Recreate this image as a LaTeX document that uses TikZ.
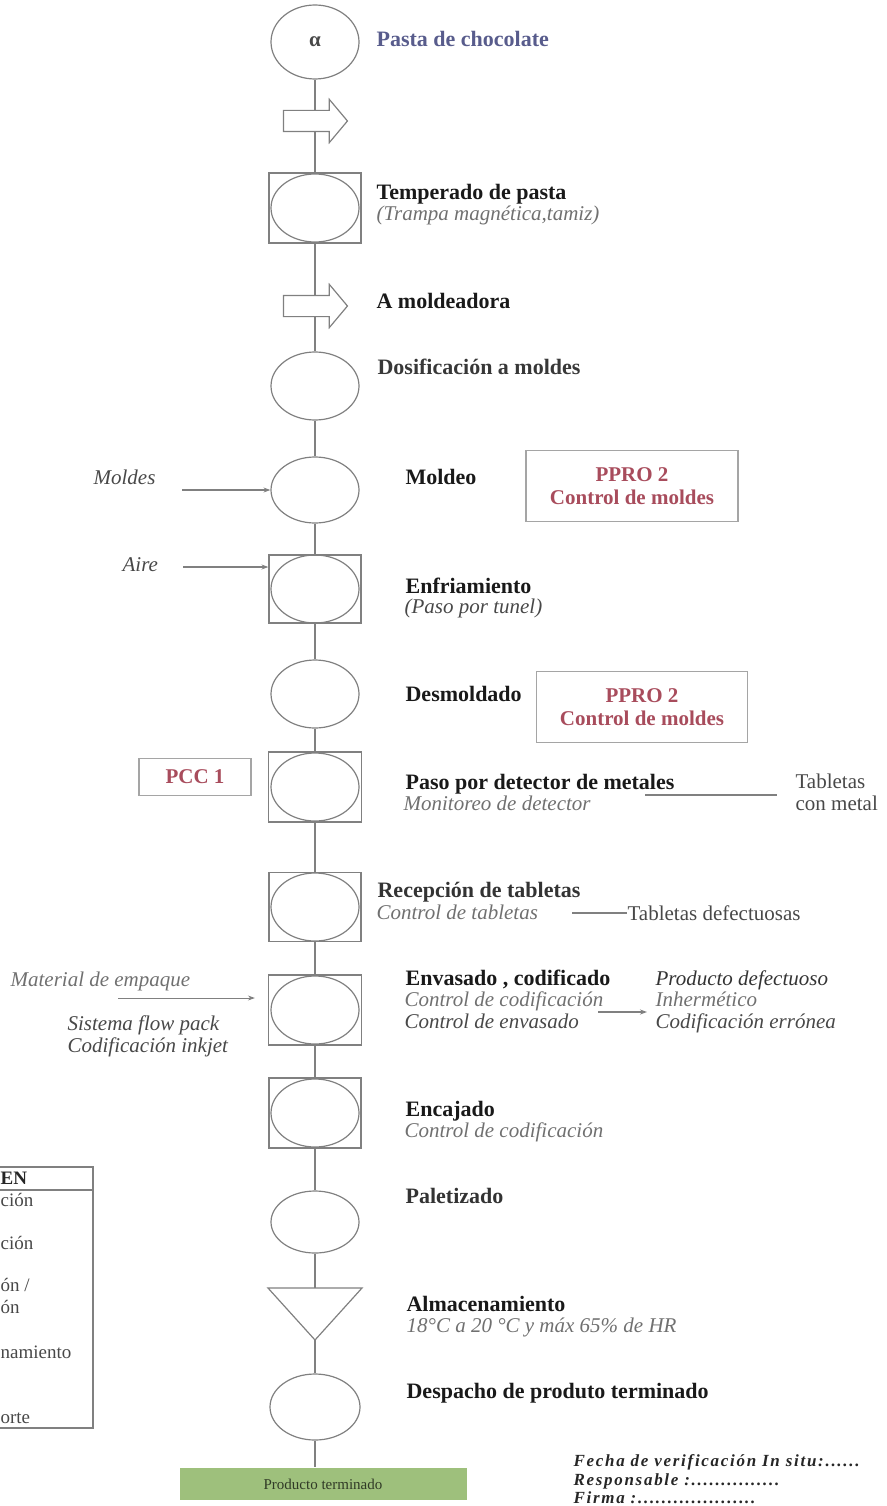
\documentclass[tikz,border=0pt]{standalone}
\usepackage{fontspec}
\setmainfont{Liberation Serif}
\usetikzlibrary{shapes.geometric,shapes.arrows,arrows.meta}
\definecolor{linegray}{RGB}{128,128,128}
\definecolor{subgray}{RGB}{112,112,112}
\definecolor{darkgray}{RGB}{72,72,72}
\definecolor{pprored}{RGB}{168,76,92}
\definecolor{pastablue}{RGB}{88,92,140}
\definecolor{boxgray}{RGB}{165,165,165}
\definecolor{ptgreen}{RGB}{158,192,124}
\definecolor{ptgreentext}{RGB}{48,58,38}
\begin{document}
\begin{tikzpicture}[x=1pt, y=-1pt, line width=1.2pt,
  opnode/.style={ellipse, draw=linegray, minimum width=88pt, minimum height=68pt, inner sep=0pt},
  opbox/.style={rectangle, draw=linegray, minimum width=92pt, minimum height=70pt, inner sep=0pt,
    path picture={\draw[linegray] (path picture bounding box.center) ellipse (44pt and 34pt);}},
  movearrow/.style={single arrow, draw=linegray, minimum height=64pt, inner xsep=0pt, inner ysep=10pt,
    single arrow head extend=11pt, single arrow tip angle=100},
  flowline/.style={draw=linegray},
  sidearrow/.style={draw=linegray, -{Stealth[length=7pt, width=5pt]}},
  steplabel/.style={anchor=base west, inner sep=0pt, text=black!90, font=\fontsize{22}{24}\selectfont\bfseries},
  sublabel/.style={anchor=base west, inner sep=0pt, text=subgray, font=\fontsize{21}{23}\selectfont\itshape},
  sidelabel/.style={anchor=base west, inner sep=0pt, text=darkgray, font=\fontsize{21}{23}\selectfont\itshape},
  plainlabel/.style={anchor=base west, inner sep=0pt, text=darkgray, font=\fontsize{21}{23}\selectfont},
  ctrlbox/.style={draw=boxgray, line width=1.6pt, text=pprored, align=center, inner sep=0pt,
    font=\fontsize{21}{23}\selectfont\bfseries},
  legendtext/.style={anchor=base west, inner sep=0pt, text=darkgray, font=\fontsize{19}{21}\selectfont},
  signtext/.style={anchor=base west, inner sep=0pt, text=black!85,
    font=\fontsize{17}{19}\selectfont\bfseries\itshape\addfontfeature{LetterSpace=10}}]
  \useasboundingbox (0,0) rectangle (886,1506);
  \node[opnode, minimum height=74pt, font=\fontsize{21}{21}\selectfont\bfseries, text=darkgray] (p1) at (315,42) {α};
  \node[movearrow] (a1) at (311,121) {};
  \node[opbox] (t1) at (315,208) {};
  \node[movearrow] (a2) at (311,306) {};
  \node[opnode] (p2) at (315,386) {};
  \node[opnode, minimum height=66pt] (p3) at (315,490) {};
  \node[opbox, minimum height=68pt] (t2) at (315,589) {};
  \node[opnode] (p4) at (315,694) {};
  \node[opbox, minimum width=93pt] (t3) at (315,787) {};
  \node[opbox, minimum height=69pt] (t4) at (315,907) {};
  \node[opbox, minimum width=93pt] (t5) at (315,1010) {};
  \node[opbox] (t6) at (315,1113) {};
  \node[opnode, minimum height=62pt] (p5) at (315,1222) {};
  \draw[linegray] (268,1288) -- (362,1288) -- (315,1340) -- cycle;
  \coordinate (s1n) at (315,1288);
  \coordinate (s1s) at (315,1340);
  \node[opnode, minimum width=90pt, minimum height=66pt] (p6) at (315,1407) {};
  \node[fill=ptgreen, minimum width=287pt, minimum height=32pt, inner sep=0pt, text=ptgreentext,
    font=\fontsize{15}{17}\selectfont] (g1) at (323,1484) {Producto terminado};
  \draw[flowline] (p1) -- (p1 |- a1.north);
  \draw[flowline] (p1 |- a1.south) -- (t1);
  \draw[flowline] (t1) -- (t1 |- a2.north);
  \draw[flowline] (t1 |- a2.south) -- (p2);
  \draw[flowline] (p2) -- (p3);
  \draw[flowline] (p3) -- (t2);
  \draw[flowline] (t2) -- (p4);
  \draw[flowline] (p4) -- (t3);
  \draw[flowline] (t3) -- (t4);
  \draw[flowline] (t4) -- (t5);
  \draw[flowline] (t5) -- (t6);
  \draw[flowline] (t6) -- (p5);
  \draw[flowline] (p5) -- (s1n);
  \draw[flowline] (s1s) -- (p6);
  \draw[flowline] (p6) -- (p6 |- g1.north);
  \node[steplabel, text=pastablue] (l1) at (376,47) {Pasta de chocolate};
  \node[steplabel] (l2) at (376,200) {Temperado de pasta};
  \node[sublabel] (l2s) at (376,221) {(Trampa magnética,tamiz)};
  \node[steplabel] (l3) at (376,308) {A moldeadora};
  \node[steplabel, text=black!78] (l4) at (377,374) {Dosificación a moldes};
  \node[steplabel] (l5) at (405,484) {Moldeo};
  \node[steplabel] (l6) at (405,593) {Enfriamiento};
  \node[sublabel, text=darkgray] (l6s) at (404,613) {(Paso por tunel)};
  \node[steplabel] (l7) at (405,701) {Desmoldado};
  \node[steplabel] (l8) at (405,789) {Paso por detector de metales};
  \node[sublabel] (l8s) at (403,810) {Monitoreo de detector};
  \node[steplabel, text=black!80] (l9) at (377,897) {Recepción de tabletas};
  \node[sublabel] (l9s) at (376,919) {Control de tabletas};
  \node[steplabel] (l10) at (405,985) {Envasado , codificado};
  \node[sublabel] (l10s) at (404,1006) {Control de codificación};
  \node[sidelabel] (l10t) at (404,1028) {Control de envasado};
  \node[steplabel] (l11) at (405,1116) {Encajado};
  \node[sublabel] (l11s) at (404,1137) {Control de codificación};
  \node[steplabel, text=black!80] (l12) at (405,1203) {Paletizado};
  \node[steplabel] (l13) at (406,1311) {Almacenamiento};
  \node[sublabel] (l13s) at (406,1332) {18°C a 20 °C y máx 65\% de HR};
  \node[steplabel] (l14) at (406,1398) {Despacho de produto terminado};
  \node[ctrlbox, minimum width=212pt, minimum height=71pt] (c1) at (632,486) {PPRO 2\\Control de moldes};
  \node[ctrlbox, minimum width=211pt, minimum height=71pt] (c2) at (642,707) {PPRO 2\\Control de moldes};
  \node[ctrlbox, minimum width=112pt, minimum height=37pt] (c3) at (195,777) {PCC 1};
  \node[sidelabel] (moldes) at (93,484) {Moldes};
  \coordinate (moldesin) at (182,490);
  \draw[sidearrow] (moldesin) -- (p3.west);
  \node[sidelabel] (aire) at (122,571) {Aire};
  \coordinate (airein) at (183,567);
  \draw[sidearrow] (airein) -- (airein -| t2.west);
  \node[sublabel] (mat) at (10,986) {Material de empaque};
  \node[sidelabel] (flow) at (67,1030) {Sistema flow pack};
  \node[sidelabel] (inkjet) at (67,1052) {Codificación inkjet};
  \coordinate (matin) at (118,998);
  \draw[sidearrow, line width=1pt] (matin) -- ([xshift=-13pt]matin -| t5.west);
  \node[plainlabel] (tcm1) at (795,788) {Tabletas};
  \node[plainlabel] (tcm2) at (795,810) {con metal};
  \coordinate (meta) at (645,795);
  \coordinate (metb) at (777,795);
  \draw[flowline] (meta) -- (metb);
  \node[plainlabel] (tdef) at (627,920) {Tabletas defectuosas};
  \coordinate (reca) at (572,913);
  \draw[flowline, line width=1.5pt] (reca) -- (reca -| tdef.west);
  \node[sidelabel, text=black!80] (pd1) at (655,985) {Producto defectuoso};
  \node[sublabel] (pd2) at (655,1006) {Inhermético};
  \node[sidelabel] (pd3) at (655,1028) {Codificación errónea};
  \coordinate (enva) at (598,1012);
  \draw[sidearrow] (enva) -- ([xshift=-8pt]enva -| pd3.west);
  \draw[linegray] (-5,1167) rectangle (93,1428);
  \draw[linegray] (-5,1190) -- (93,1190);
  \node[legendtext, font=\fontsize{19}{21}\selectfont\bfseries, text=black!85] (lg0) at (0,1184) {EN};
  \node[legendtext] (lg1) at (0,1206) {ción};
  \node[legendtext] (lg2) at (0,1249) {ción};
  \node[legendtext] (lg3) at (0,1291) {ón /};
  \node[legendtext] (lg4) at (0,1313) {ón};
  \node[legendtext] (lg5) at (0,1358) {namiento};
  \node[legendtext] (lg6) at (0,1423) {orte};
  \node[signtext] (sg1) at (573,1466) {Fecha de verificación In situ:......};
  \node[signtext] (sg2) at (573,1485) {Responsable :...............};
  \node[signtext] (sg3) at (573,1503) {Firma :....................};
\end{tikzpicture}
\end{document}
